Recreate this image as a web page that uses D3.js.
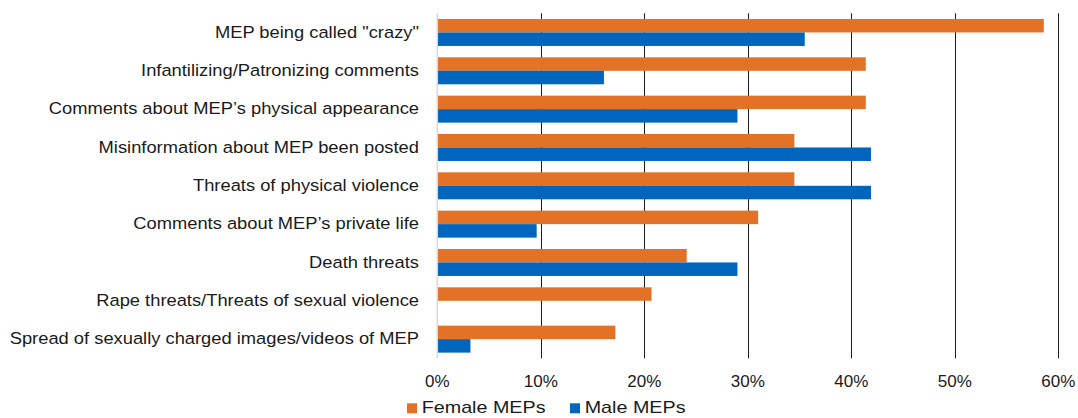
<!DOCTYPE html>
<html>
<head>
<meta charset="utf-8">
<script src="https://cdn.jsdelivr.net/npm/d3@7"></script>
<style>
  html, body { margin: 0; padding: 0; background: #fff; }
  svg { display: block; }
  text { font-family: "Liberation Sans", Arial, sans-serif; fill: #1a1a1a; }
</style>
</head>
<body>
<svg id="chart" width="1078" height="418"></svg>
<script>
const categories = [
  'MEP being called "crazy"',
  "Infantilizing/Patronizing comments",
  "Comments about MEP\u2019s physical appearance",
  "Misinformation about MEP been posted",
  "Threats of physical violence",
  "Comments about MEP\u2019s private life",
  "Death threats",
  "Rape threats/Threats of sexual violence",
  "Spread of sexually charged images/videos of MEP"
];
const femaleValues = [0.586, 0.414, 0.414, 0.345, 0.345, 0.310, 0.241, 0.207, 0.172];
const maleValues   = [0.355, 0.161, 0.290, 0.419, 0.419, 0.096, 0.290, 0.000, 0.032];
const seriesNames = ["Female MEPs", "Male MEPs"];
const seriesColors = ["#E37226", "#0065BD"];
const tickValues = [0, 0.1, 0.2, 0.3, 0.4, 0.5, 0.6];

(function() {
const svg = d3.select("#chart");
const plotLeft = 437.3, plotRight = 1058.3, plotTop = 13.3, plotBottom = 358.3;

const x = d3.scaleLinear().domain([0, 0.6]).range([plotLeft, plotRight]);
const y = d3.scaleBand().domain(categories).range([plotTop, plotBottom]).padding(0);
const barH = y.bandwidth() * 0.352;
const groupOffset = (y.bandwidth() - 2 * barH) / 2;

function stretch(sel, f) {
  sel.each(function() {
    const w = this.getComputedTextLength();
    d3.select(this).attr("textLength", w * f).attr("lengthAdjust", "spacingAndGlyphs");
  });
}

// gridlines
svg.append("g").selectAll("line").data(tickValues.slice(1)).join("line")
  .attr("x1", d => Math.round(x(d)) + 0.5).attr("x2", d => Math.round(x(d)) + 0.5)
  .attr("y1", plotTop).attr("y2", plotBottom)
  .attr("stroke", "#1a1a1a").attr("stroke-width", 1);

// bars
const series = [femaleValues, maleValues];
series.forEach((vals, si) => {
  svg.append("g").selectAll("rect").data(vals).join("rect")
    .attr("x", x(0))
    .attr("y", (d, i) => y(categories[i]) + groupOffset + si * barH)
    .attr("width", d => x(d) - x(0))
    .attr("height", barH)
    .attr("fill", seriesColors[si]);
});

// zero axis line
svg.append("line")
  .attr("x1", x(0)).attr("x2", x(0)).attr("y1", plotTop).attr("y2", plotBottom)
  .attr("stroke", "#d9d9d9").attr("stroke-width", 1.5);

// category labels
const catLabels = svg.append("g").selectAll("text").data(categories).join("text")
  .attr("x", 419)
  .attr("y", d => y(d) + y.bandwidth() / 2 + 5.2)
  .attr("text-anchor", "end")
  .attr("font-size", 16.3)
  .text(d => d);
stretch(catLabels, 1.125);

// tick labels
svg.append("g").selectAll("text").data(tickValues).join("text")
  .attr("x", d => x(d))
  .attr("y", 387.3)
  .attr("text-anchor", "middle")
  .attr("font-size", 17)
  .text(d => d3.format(".0%")(d));

// legend
const legendX = [407, 570];
seriesNames.forEach((name, i) => {
  svg.append("rect").attr("x", legendX[i]).attr("y", 403.3).attr("width", 10).attr("height", 10)
    .attr("fill", seriesColors[i]);
  const t = svg.append("text").attr("x", legendX[i] + 14.7).attr("y", 413.3)
    .attr("font-size", 17).text(name);
  stretch(t, 1.16);
});
})();
</script>
</body>
</html>
